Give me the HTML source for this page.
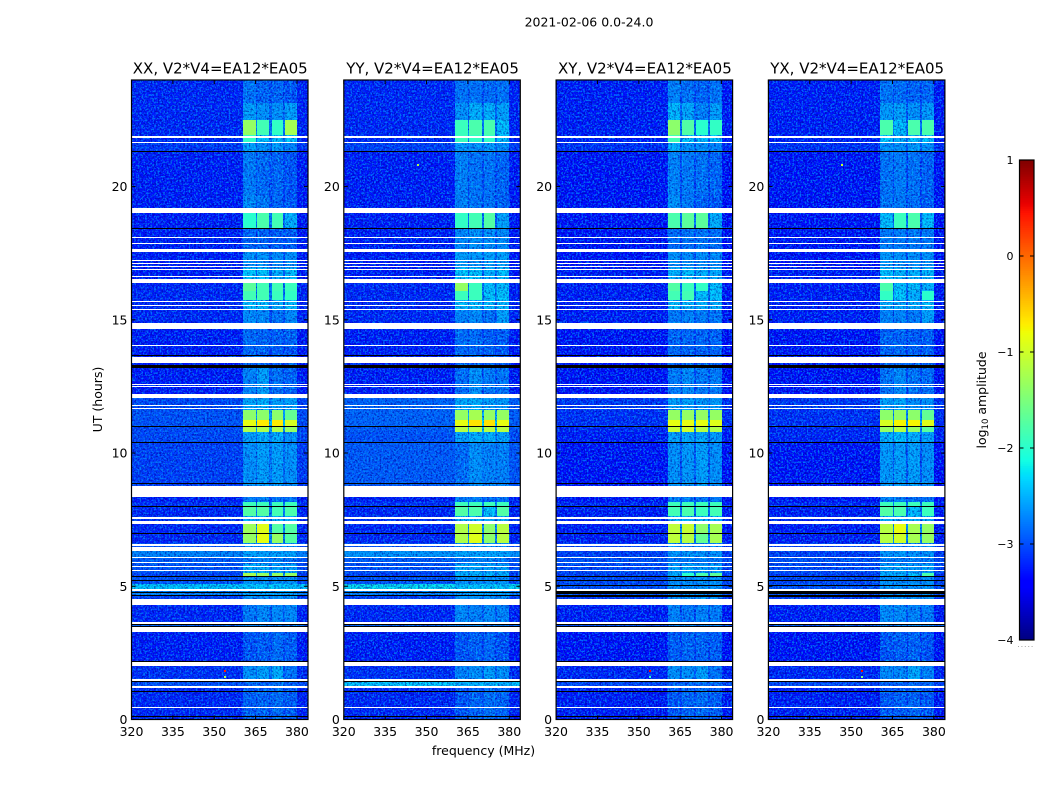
<!DOCTYPE html>
<html>
<head>
<meta charset="utf-8">
<title>2021-02-06 0.0-24.0</title>
<style>
html,body{margin:0;padding:0;background:#fff;width:1050px;height:800px;overflow:hidden}
svg{display:block;font-family:"DejaVu Sans","Liberation Sans",sans-serif;fill:#000}
</style>
</head>
<body>
<svg id="chart" xmlns="http://www.w3.org/2000/svg" width="1050" height="800" viewBox="0 0 1050 800">
  <defs>
    <filter id="speckle-dark" x="0" y="0" width="100%" height="100%" color-interpolation-filters="sRGB">
      <feTurbulence type="fractalNoise" baseFrequency="0.55" numOctaves="2" seed="3"/>
      <feColorMatrix type="matrix" values="0 0 0 0 0  0 0 0 0 0  0 0 0 0 0.6  5 0 0 0 -2.3"/>
    </filter>
    <filter id="speckle-light" x="0" y="0" width="100%" height="100%" color-interpolation-filters="sRGB">
      <feTurbulence type="fractalNoise" baseFrequency="0.55" numOctaves="2" seed="11"/>
      <feColorMatrix type="matrix" values="0 0 0 0 0  0 0 0 0 0.6  0 0 0 0 1  0 5 0 0 -2.4"/>
    </filter>
    <filter id="speckle-band" x="0" y="0" width="100%" height="100%" color-interpolation-filters="sRGB">
      <feTurbulence type="fractalNoise" baseFrequency="0.5" numOctaves="2" seed="23"/>
      <feColorMatrix type="matrix" values="0 0 0 0 0  0 0 0 0 0.8  0 0 0 0 1  0 0 6 0 -3.2"/>
    </filter>
  </defs>
  <text x="589" y="26.5" font-size="12.5" text-anchor="middle">2021-02-06 0.0-24.0</text>
  <text x="483.5" y="755" font-size="12.5" text-anchor="middle">frequency (MHz)</text>
  <text transform="translate(102,399.5) rotate(-90)" font-size="12.5" text-anchor="middle">UT (hours)</text>
  <text transform="translate(986,400) rotate(-90)" font-size="12.5" text-anchor="middle">log<tspan font-size="8.5" dy="2">10</tspan><tspan dy="-2"> amplitude</tspan></text>
  <g id="panels"></g>
  <g id="colorbar"></g>
</svg>
<script>
// ---- data (UT hours, MHz, log10 amplitude) ----
const panelNames = ["XX", "YY", "XY", "YX"];
const baselineLabel = "V2*V4=EA12*EA05";
const freqTicks = [320, 335, 350, 365, 380];
const timeTicks = [0, 5, 10, 15, 20];
const colorTicks = [-4, -3, -2, -1, 0, 1];
const colorTickLabels = ["\u22124", "\u22123", "\u22122", "\u22121", "0", "1"];
// spectral windows
const windowStarts = [360.5, 365.5, 370.8, 375.7];
const windowEnds = [365.0, 370.0, 375.0, 380.0];
// time block boundaries
const timeEdges = [0,1.2,1.45,2.05,3.4,3.6,4.4,4.65,4.89,5.1,5.35,5.5,5.85,6.1,6.45,6.63,7.0,7.34,7.63,8.01,8.15,8.76,10.4,10.79,11.0,11.25,11.62,12.22,13.25,14.06,14.87,15.41,15.75,16.1,16.5,16.95,17.65,18.43,19.2,19.7,21.3,21.65,21.95,22.5,23.13,24];
// each row: background, window 1..4
const xxLevels = [
[-3.25,-2.75,-2.7,-2.65,-2.75],[-3.0,-2.7,-2.7,-2.6,-2.7],[-3.2,-2.4,-2.3,-2.2,-2.6],[-3.3,-2.8,-2.75,-2.65,-2.75],[-2.9,-2.5,-2.5,-2.5,-2.5],
[-3.25,-2.55,-2.45,-2.45,-2.45],[-3.1,-2.4,-2.4,-2.4,-2.4],[-2.7,-2.3,-2.3,-2.3,-2.3],[-2.3,-2.1,-2.1,-2.1,-2.1],[-3.0,-2.4,-2.4,-2.4,-2.4],
[-3.1,-1.4,-1.5,-1.5,-1.5],[-3.0,-2.2,-2.2,-2.3,-2.3],[-2.95,-2.6,-2.5,-2.5,-2.6],[-2.7,-2.3,-2.3,-2.3,-2.3],[-3.0,-2.4,-2.4,-2.4,-2.4],
[-3.25,-1.5,-1.0,-1.5,-1.75],[-3.25,-1.45,-1.05,-1.75,-1.75],[-3.2,-2.2,-2.2,-2.2,-2.2],[-3.25,-1.75,-1.75,-1.85,-1.8],[-3.2,-1.9,-1.9,-1.9,-1.9],
[-3.3,-2.55,-2.5,-2.6,-2.6],[-3.1,-2.4,-2.3,-2.3,-2.4],[-3.05,-2.3,-2.2,-2.2,-2.4],[-3.05,-1.35,-1.35,-1.35,-1.5],[-3.0,-1.0,-0.85,-0.85,-1.1],
[-3.0,-1.55,-1.55,-1.55,-1.65],[-3.05,-2.25,-2.2,-2.3,-2.3],[-3.3,-2.5,-2.3,-2.6,-2.7],[-3.3,-2.7,-2.7,-2.75,-2.8],[-3.3,-2.65,-2.7,-2.75,-2.7],
[-3.25,-2.45,-2.45,-2.6,-2.45],[-3.25,-2.1,-2.1,-2.2,-2.1],[-3.25,-1.85,-1.85,-1.9,-1.95],[-3.25,-1.7,-1.85,-1.85,-1.9],[-3.3,-2.05,-2.05,-2.2,-2.1],
[-3.3,-2.4,-2.4,-2.45,-2.4],[-3.3,-2.7,-2.7,-2.75,-2.75],[-3.3,-2.0,-1.8,-1.85,-2.2],[-3.3,-2.45,-2.55,-2.7,-2.8],[-3.3,-2.55,-2.65,-2.7,-2.8],
[-3.15,-2.3,-2.4,-2.35,-2.5],[-3.25,-1.95,-2.1,-2.1,-2.05],[-3.25,-1.5,-1.85,-1.95,-1.4],[-3.25,-2.3,-2.4,-2.4,-2.3],[-3.25,-2.6,-2.7,-2.7,-2.8]];
const yyLevels = [
[-3.25,-2.8,-2.7,-2.6,-2.7],[-2.3,-2.2,-2.2,-2.2,-2.2],[-3.2,-2.5,-2.4,-2.3,-2.4],[-3.3,-2.8,-2.75,-2.7,-2.8],[-2.9,-2.5,-2.5,-2.5,-2.5],
[-3.25,-2.45,-2.5,-2.45,-2.5],[-3.1,-2.4,-2.4,-2.4,-2.4],[-2.7,-2.3,-2.3,-2.3,-2.3],[-2.2,-2.1,-2.1,-2.1,-2.1],[-3.0,-2.4,-2.4,-2.4,-2.4],
[-3.1,-2.2,-2.2,-2.2,-2.2],[-3.0,-2.25,-2.25,-2.3,-2.3],[-2.95,-2.6,-2.5,-2.5,-2.6],[-2.6,-2.3,-2.3,-2.3,-2.3],[-3.0,-2.4,-2.4,-2.4,-2.4],
[-3.25,-1.35,-1.05,-1.55,-1.3],[-3.25,-1.35,-1.15,-1.55,-1.3],[-3.2,-2.2,-2.2,-2.2,-2.2],[-3.25,-1.75,-1.8,-2.05,-1.75],[-3.2,-1.9,-1.9,-1.9,-1.9],
[-3.3,-2.55,-2.55,-2.65,-2.6],[-2.95,-2.65,-2.4,-2.5,-2.5],[-3.0,-2.3,-2.2,-2.2,-2.3],[-2.95,-1.3,-1.3,-1.3,-1.3],[-2.9,-1.0,-0.8,-0.8,-1.0],
[-2.9,-1.5,-1.4,-1.5,-1.5],[-2.9,-2.25,-2.2,-2.3,-2.35],[-3.3,-2.65,-2.4,-2.55,-2.6],[-3.3,-2.7,-2.7,-2.7,-2.8],[-3.3,-2.65,-2.65,-2.75,-2.75],
[-3.25,-2.5,-2.45,-2.6,-2.3],[-3.25,-2.1,-2.1,-2.15,-2.15],[-3.25,-1.9,-1.9,-2.05,-2.05],[-3.25,-1.5,-1.9,-2.1,-2.1],[-3.3,-2.05,-2.05,-2.2,-2.1],
[-3.3,-2.3,-2.35,-2.3,-2.3],[-3.3,-2.45,-2.4,-2.4,-2.45],[-3.3,-1.95,-1.85,-1.75,-2.3],[-3.3,-2.5,-2.6,-2.6,-2.7],[-3.3,-2.5,-2.6,-2.6,-2.7],
[-3.1,-2.35,-2.4,-2.35,-2.45],[-3.25,-1.9,-1.95,-1.95,-2.1],[-3.25,-1.9,-1.8,-1.8,-2.1],[-3.25,-2.4,-2.2,-2.2,-2.3],[-3.25,-2.6,-2.6,-2.65,-2.6]];
const xyLevels = [
[-3.3,-2.8,-2.7,-2.65,-2.75],[-3.05,-2.7,-2.7,-2.65,-2.7],[-3.25,-2.4,-2.4,-2.3,-2.6],[-3.35,-2.75,-2.7,-2.7,-2.75],[-3.0,-2.5,-2.5,-2.5,-2.5],
[-3.3,-2.5,-2.6,-2.5,-2.55],[-3.15,-2.4,-2.4,-2.4,-2.4],[-3.0,-2.4,-2.4,-2.4,-2.4],[-3.0,-2.4,-2.4,-2.4,-2.4],[-3.05,-2.4,-2.4,-2.4,-2.4],
[-3.1,-2.2,-2.0,-1.8,-1.7],[-3.05,-2.3,-2.25,-2.35,-2.3],[-3.0,-2.55,-2.55,-2.55,-2.6],[-3.1,-2.4,-2.35,-2.4,-2.4],[-3.1,-2.5,-2.5,-2.5,-2.5],
[-3.3,-1.25,-1.3,-1.65,-1.4],[-3.3,-1.25,-1.2,-1.55,-1.4],[-3.25,-2.2,-2.2,-2.2,-2.2],[-3.3,-1.85,-1.8,-1.9,-1.85],[-3.25,-1.9,-1.9,-1.9,-1.9],
[-3.35,-2.55,-2.55,-2.6,-2.55],[-3.35,-2.4,-2.35,-2.3,-2.4],[-3.3,-2.3,-2.25,-2.25,-2.35],[-3.25,-1.2,-1.15,-1.3,-1.35],[-3.2,-1.0,-1.0,-1.0,-1.05],
[-3.2,-1.5,-1.5,-1.5,-1.5],[-3.15,-2.3,-2.3,-2.35,-2.35],[-3.35,-2.55,-2.45,-2.55,-2.55],[-3.35,-2.65,-2.7,-2.7,-2.7],[-3.35,-2.7,-2.7,-2.7,-2.7],
[-3.3,-2.55,-2.5,-2.55,-2.6],[-3.3,-2.1,-2.15,-2.2,-2.2],[-3.3,-1.85,-1.85,-2.1,-2.1],[-3.3,-1.75,-1.9,-1.95,-2.1],[-3.3,-2.2,-2.1,-2.2,-2.25],
[-3.35,-2.4,-2.45,-2.45,-2.45],[-3.35,-2.65,-2.6,-2.6,-2.65],[-3.35,-1.8,-1.7,-1.7,-2.2],[-3.35,-2.4,-2.55,-2.7,-2.8],[-3.35,-2.5,-2.55,-2.6,-2.7],
[-3.2,-2.2,-2.4,-2.4,-2.5],[-3.3,-1.85,-2.05,-2.15,-2.1],[-3.3,-1.55,-1.75,-2.0,-1.95],[-3.3,-2.15,-2.25,-2.5,-2.3],[-3.3,-2.5,-2.6,-2.7,-2.6]];
const yxLevels = [
[-3.3,-2.8,-2.75,-2.7,-2.8],[-3.05,-2.7,-2.7,-2.65,-2.7],[-3.25,-2.45,-2.45,-2.25,-2.5],[-3.35,-2.8,-2.75,-2.7,-2.8],[-3.0,-2.5,-2.5,-2.5,-2.5],
[-3.3,-2.45,-2.45,-2.5,-2.55],[-3.15,-2.4,-2.4,-2.4,-2.4],[-3.0,-2.4,-2.4,-2.4,-2.4],[-3.0,-2.4,-2.4,-2.4,-2.4],[-3.05,-2.4,-2.4,-2.4,-2.4],
[-3.1,-2.25,-2.25,-2.1,-1.8],[-3.05,-2.3,-2.25,-2.35,-2.3],[-3.0,-2.55,-2.55,-2.55,-2.6],[-3.1,-2.4,-2.35,-2.4,-2.4],[-3.1,-2.5,-2.5,-2.5,-2.5],
[-3.3,-1.3,-1.15,-1.4,-1.5],[-3.3,-1.3,-1.0,-1.4,-1.5],[-3.25,-2.2,-2.2,-2.2,-2.2],[-3.3,-1.75,-1.8,-2.1,-1.9],[-3.25,-1.9,-1.9,-1.9,-1.9],
[-3.35,-2.5,-2.5,-2.6,-2.6],[-3.35,-2.35,-2.3,-2.3,-2.4],[-3.25,-2.2,-2.1,-2.2,-2.3],[-3.25,-1.5,-1.3,-1.5,-1.7],[-3.2,-1.1,-0.9,-0.9,-1.05],
[-3.2,-1.55,-1.5,-1.55,-1.65],[-3.15,-2.3,-2.25,-2.4,-2.4],[-3.35,-2.6,-2.45,-2.6,-2.65],[-3.35,-2.7,-2.65,-2.7,-2.75],[-3.35,-2.7,-2.7,-2.75,-2.75],
[-3.3,-2.5,-2.5,-2.55,-2.3],[-3.3,-2.2,-2.25,-2.2,-2.1],[-3.3,-1.95,-2.05,-2.2,-2.0],[-3.3,-1.8,-2.1,-2.1,-2.2],[-3.3,-2.1,-2.15,-2.2,-2.15],
[-3.35,-2.35,-2.4,-2.4,-2.4],[-3.35,-2.55,-2.55,-2.55,-2.55],[-3.35,-2.1,-1.9,-1.8,-2.1],[-3.35,-2.6,-2.55,-2.65,-2.75],[-3.35,-2.6,-2.55,-2.6,-2.7],
[-3.2,-2.4,-2.4,-2.35,-2.4],[-3.3,-2.05,-2.2,-2.1,-2.1],[-3.3,-1.8,-2.1,-1.8,-1.8],[-3.3,-2.35,-2.3,-2.4,-2.35],[-3.3,-2.6,-2.65,-2.7,-2.7]];
const panelLevels = [xxLevels, yyLevels, xyLevels, yxLevels];
// flagged (blank) intervals, hours
const gapStarts = [0.43,1.18,1.46,2.01,3.28,3.60,4.31,4.83,5.57,5.72,5.87,6.06,6.32,6.51,7.34,7.51,8.34,11.65,11.78,12.07,12.48,12.55,13.39,14.00,14.64,15.37,15.52,15.67,16.39,16.60,16.87,16.98,17.09,17.22,17.56,17.84,18.07,19.01,21.64,21.84];
const gapEnds = [0.47,1.26,1.52,2.17,3.47,3.66,4.52,4.89,5.61,5.76,5.91,6.10,6.46,6.59,7.46,7.59,8.76,11.69,11.82,12.22,12.52,12.59,13.62,14.04,14.87,15.41,15.56,15.71,16.54,16.64,16.91,17.02,17.13,17.26,17.65,17.88,18.11,19.20,21.68,21.88];
// zero-amplitude (black) integrations, hours: start / duration
const darkStarts = [0.09,1.05,1.40,2.18,3.47,3.56,4.66,4.75,5.22,5.36,6.98,7.98,8.84,10.39,10.99,13.21,13.64,18.42,21.28];
const darkLengths = [0.03,0.03,0.03,0.03,0.03,0.03,0.03,0.03,0.03,0.03,0.03,0.05,0.03,0.03,0.03,0.08,0.03,0.04,0.04];
const crossDarkStarts = [4.60,4.71,4.80,5.02];
// isolated spikes
const spikePanels = [0,0,2,2,3,3,1,3];
const spikeFreqs = [353.6,353.6,353.6,353.6,353.6,353.6,346.4,346.4];
const spikeHours = [1.86,1.65,1.85,1.65,1.85,1.65,20.86,20.86];
const spikeLevels = [0.4,-1.2,0.5,-2.0,0.5,-1.5,-1.2,-1.0];

// ---- layout / scales ----
const NS = "http://www.w3.org/2000/svg";
const plotTop = 80, plotBottom = 719.5, hourMax = 24;
const freqMin = 320, freqMax = 384;
const panelWidth = 176.5;
const panelGap = 212.3;
const panelLeft0 = 131.5;
const cbLeft = 1019.5, cbRight = 1034, cbTop = 160, cbBottom = 640;
const colorMin = -4, colorMax = 1;
const strongLevel = -2.05;

function xScale(panel, f) { return panelLeft0 + panel * panelGap + (f - freqMin) / (freqMax - freqMin) * panelWidth; }
function yScale(h) { return plotBottom - h / hourMax * (plotBottom - plotTop); }
function cbScale(v) { return cbBottom - (v - colorMin) / (colorMax - colorMin) * (cbBottom - cbTop); }
function ramp(x, pts) {
  for (let i = 1; i < pts.length; i++) {
    if (x <= pts[i][0]) {
      const a = pts[i - 1], b = pts[i];
      return a[1] + (b[1] - a[1]) * (x - a[0]) / (b[0] - a[0]);
    }
  }
  return pts[pts.length - 1][1];
}
function jet(v) {
  const t = Math.max(0, Math.min(1, (v - colorMin) / (colorMax - colorMin)));
  const r = ramp(t, [[0,0],[0.35,0],[0.66,1],[0.89,1],[1,0.5]]);
  const g = ramp(t, [[0,0],[0.125,0],[0.375,1],[0.64,1],[0.91,0],[1,0]]);
  const b = ramp(t, [[0,0.5],[0.11,1],[0.34,1],[0.65,0],[1,0]]);
  return "rgb(" + Math.round(r * 255) + "," + Math.round(g * 255) + "," + Math.round(b * 255) + ")";
}
// Noisy windows are painted below their mean (the speckle layer lifts them); the brightest sit slightly above.
function windowShade(v) {
  if (v > -1.6) return v + 0.15;
  if (v > strongLevel) return v;
  return v - 0.25;
}
function node(parent, tag, attrs) {
  const el = document.createElementNS(NS, tag);
  for (const k in attrs) el.setAttribute(k, attrs[k]);
  parent.appendChild(el);
  return el;
}
function cellRect(parent, panel, f0, f1, h0, h1, level) {
  const x0 = Math.round(xScale(panel, f0)), x1 = Math.round(xScale(panel, f1));
  const y0 = Math.round(yScale(h1));
  const y1 = Math.max(y0 + 1, Math.round(yScale(h0)));
  return node(parent, "rect", { x: x0, y: y0, width: x1 - x0, height: y1 - y0, fill: jet(level), "shape-rendering": "crispEdges" });
}

const panelsRoot = document.getElementById("panels");
panelNames.forEach(function (name, p) {
  const levels = panelLevels[p];
  const g = node(panelsRoot, "g", {});
  
  
  const left = xScale(p, freqMin), right = xScale(p, freqMax);

  // base heatmap blocks
  const heat = node(g, "g", {});
  
  
  const smooth = [];
  for (let r = 0; r < timeEdges.length - 1; r++) {
    const row = levels[r], h0 = timeEdges[r], h1 = timeEdges[r + 1], bg = row[0];
    const cellA = cellRect(heat, p, freqMin, windowStarts[0], h0, h1, bg);
    
    
    const cellB = cellRect(heat, p, windowEnds[3], freqMax, h0, h1, bg - 0.03);
    
    
    for (let w = 0; w < windowStarts.length; w++) {
      const cell = cellRect(heat, p, windowStarts[w], windowEnds[w], h0, h1, windowShade(row[w + 1]));
      
      
      if (row[w + 1] > strongLevel) smooth.push([windowStarts[w], windowEnds[w], h0, h1, windowShade(row[w + 1])]);
      if (w < windowStarts.length - 1) {
        const guard = cellRect(heat, p, windowEnds[w], windowStarts[w + 1], h0, h1, bg + (Math.min(row[w + 1], row[w + 2]) - bg) * 0.3);
        
        
      }
    }
  }

  // receiver-noise texture
  const sp1 = node(g, "rect", { x: left, y: plotTop, width: right - left, height: plotBottom - plotTop, filter: "url(#speckle-dark)", opacity: 0.55 });
  
  
  const sp2 = node(g, "rect", { x: left, y: plotTop, width: right - left, height: plotBottom - plotTop, filter: "url(#speckle-light)", opacity: 0.7 });
  
  
  const bandX0 = xScale(p, windowStarts[0]), bandX1 = xScale(p, windowEnds[windowEnds.length - 1]);
  const sp3 = node(g, "rect", { x: bandX0, y: plotTop, width: bandX1 - bandX0, height: plotBottom - plotTop, filter: "url(#speckle-band)", opacity: 0.55 });
  
  

  // strong windows stay smooth
  smooth.forEach(function (c) {
    const cell = cellRect(g, p, c[0], c[1], c[2], c[3], c[4]);
    
    
  });

  // spikes
  spikeFreqs.forEach(function (f, i) {
    if (spikePanels[i] !== p) return;
    const s = node(g, "rect", { x: Math.round(xScale(p, f)), y: Math.round(yScale(spikeHours[i])), width: 2, height: 2, fill: jet(spikeLevels[i]), "shape-rendering": "crispEdges" });
    
    
  });

  // blanked intervals
  gapStarts.forEach(function (h0, i) {
    const gap = cellRect(g, p, freqMin, freqMax, h0, gapEnds[i], 0);
    gap.setAttribute('fill', '#fff');
    
    
  });
  // zero-amplitude lines
  darkStarts.forEach(function (h0, i) {
    const line = cellRect(g, p, freqMin, freqMax, h0, h0 + darkLengths[i], 0);
    line.setAttribute('fill', '#000');
    
    
  });
  if (p >= 2) {
    crossDarkStarts.forEach(function (h0) {
      const line = cellRect(g, p, freqMin, freqMax, h0, h0 + 0.03, 0);
      line.setAttribute('fill', '#000');
      
      
    });
  }

  // frame
  const frame = node(g, "rect", { x: left, y: plotTop, width: right - left, height: plotBottom - plotTop, fill: "none", stroke: "#000", "stroke-width": 1.2 });
  
  

  // ticks
  freqTicks.forEach(function (f) {
    const x = xScale(p, f);
    const t1 = node(g, "path", { d: "M" + x + " " + plotBottom + "v-4", stroke: "#000", "stroke-width": 1, fill: "none" });
    
    
    const t2 = node(g, "path", { d: "M" + x + " " + plotTop + "v4", stroke: "#000", "stroke-width": 1, fill: "none" });
    
    
    const lab = node(g, "text", { x: x, y: 736, "font-size": 12.5, "text-anchor": "middle" });
    lab.textContent = String(f);
    
    
  });
  timeTicks.forEach(function (h) {
    const y = yScale(h);
    const t1 = node(g, "path", { d: "M" + left + " " + y + "h4", stroke: "#000", "stroke-width": 1, fill: "none" });
    
    
    const t2 = node(g, "path", { d: "M" + right + " " + y + "h-4", stroke: "#000", "stroke-width": 1, fill: "none" });
    
    
    const lab = node(g, "text", { x: left - 4, y: y + 4.5, "font-size": 12.5, "text-anchor": "end" });
    lab.textContent = String(h);
    
    
  });

  const title = node(g, "text", { x: (left + right) / 2 + 0.5, y: 73.5, "font-size": 15, "text-anchor": "middle" });
  title.textContent = name + ", " + baselineLabel;
  
  
});

// colorbar
const cb = document.getElementById("colorbar");
for (let i = 0; i < 256; i++) {
  const v0 = colorMin + (colorMax - colorMin) * i / 256;
  const v1 = colorMin + (colorMax - colorMin) * (i + 1) / 256;
  const seg = node(cb, "rect", { x: cbLeft, y: cbScale(v1), width: cbRight - cbLeft, height: cbScale(v0) - cbScale(v1) + 0.4, fill: jet((v0 + v1) / 2) });
  
  
}
const cbFrame = node(cb, "rect", { x: cbLeft, y: cbTop, width: cbRight - cbLeft, height: cbBottom - cbTop, fill: "none", stroke: "#000", "stroke-width": 1.2 });


colorTicks.forEach(function (v, i) {
  const y = cbScale(v);
  const t = node(cb, "path", { d: "M" + cbLeft + " " + y + "h4M" + cbRight + " " + y + "h-4", stroke: "#000", "stroke-width": 1, fill: "none" });
  
  
  const lab = node(cb, "text", { x: 1013.5, y: y + 4, "font-size": 11, "text-anchor": "end" });
  lab.textContent = colorTickLabels[i];
  
  
});
const dots = node(cb, "path", { d: "M1018 646.5H1035", stroke: "#aaa", "stroke-width": 1, "stroke-dasharray": "1 2.4", fill: "none" });


</script>
</body>
</html>
